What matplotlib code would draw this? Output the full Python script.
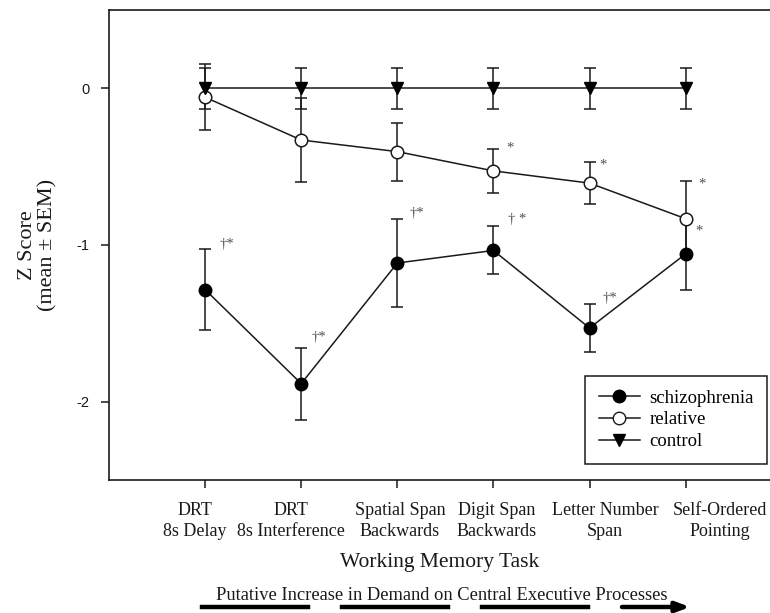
import matplotlib
matplotlib.use("Agg")
import matplotlib.pyplot as plt
from matplotlib.lines import Line2D

tasks = ["DRT\n8s Delay", "DRT\n8s Interference", "Spatial Span\nBackwards",
         "Digit Span\nBackwards", "Letter Number\nSpan", "Self-Ordered\nPointing"]
x = [1, 2, 3, 4, 5, 6]

schiz_mean = [-1.285, -1.885, -1.115, -1.035, -1.53, -1.057]
schiz_sem = [0.26, 0.23, 0.28, 0.153, 0.153, 0.23]
rel_mean = [-0.057, -0.33, -0.404, -0.527, -0.605, -0.832]
rel_sem = [0.21, 0.27, 0.185, 0.138, 0.136, 0.24]
ctrl_mean = [0, 0, 0, 0, 0, 0]
ctrl_sem = [0.13, 0.13, 0.13, 0.13, 0.13, 0.13]

# significance marks: (x, y, text)
marks = [(1.15, -1.04, "\u2020*"), (2.11, -1.63, "\u2020*"), (3.13, -0.84, "\u2020*"),
         (4.15, -0.88, "\u2020 *"), (5.13, -1.38, "\u2020*"),
         (4.13, -0.42, "*"), (5.1, -0.53, "*"), (6.13, -0.65, "*"), (6.1, -0.95, "*")]

# the task labels in the original are spread wider than the ticks
label_x = [0.895, 1.889, 3.028, 4.037, 5.161, 6.358]

serif = ["Liberation Serif", "DejaVu Serif"]
sans = ["Liberation Sans", "DejaVu Sans"]
ink = "#1a1a1a"

fig = plt.figure(figsize=(7.7, 6.13), dpi=100)
ax = fig.add_axes([0.1416, 0.217, 0.8736, 0.7667])

common = dict(color=ink, lw=1.1, capsize=4.5, elinewidth=1.1, capthick=1.1, markersize=9)
ax.errorbar(x, schiz_mean, yerr=schiz_sem, marker="o", mfc="black", mec="black", **common)
ax.errorbar(x, rel_mean, yerr=rel_sem, marker="o", mfc="white", mec=ink, mew=1.1, **common)
ax.errorbar(x, ctrl_mean, yerr=ctrl_sem, marker="v", mfc="black", mec="black", **common)

for mx, my, mt in marks:
    ax.text(mx, my, mt, fontsize=10.5, color="#505050", family=serif, va="bottom", ha="left")

ax.set_xlim(0, 7)
ax.set_ylim(-2.5, 0.5)
ax.set_xticks(x)
ax.set_xticklabels([])
for lx, lt in zip(label_x, tasks):
    ax.annotate(lt, xy=(lx, 0), xycoords=("data", "axes fraction"), xytext=(0, -16),
                textcoords="offset points", ha="center", va="top", family=serif,
                fontsize=13, color=ink, linespacing=1.3, annotation_clip=False)
ax.set_yticks([0, -1, -2])
ax.set_yticklabels(["0", "-1", "-2"], family=sans, fontsize=10.5, color=ink)
ax.tick_params(direction="out", length=6, width=1.1, color=ink, pad=8)
for s in ax.spines.values():
    s.set_linewidth(1.2)
    s.set_color(ink)

ax.set_ylabel("Z Score\n(mean \u00b1 SEM)", family=serif, fontsize=16, color=ink,
              linespacing=1.05, labelpad=14)
fig.text(440 / 770, 1 - 563 / 613, "Working Memory Task", family=serif, fontsize=15.5,
         color=ink, ha="center", va="center")
fig.text(442 / 770, 1 - 595 / 613, "Putative Increase in Demand on Central Executive Processes",
         family=serif, fontsize=13.3, color=ink, ha="center", va="center")

# demand arrow made of thick segments
yb = 1 - 607 / 613
for a, b in [(202, 308), (342, 448), (482, 588)]:
    fig.add_artist(Line2D([a / 770, b / 770], [yb, yb], color="black", lw=3.2,
                          transform=fig.transFigure))
ax.annotate("", xy=(690 / 770, yb), xytext=(622 / 770, yb), xycoords="figure fraction",
            arrowprops=dict(arrowstyle="-|>,head_length=0.8,head_width=0.3", color="black",
                            lw=3.2, shrinkA=0, shrinkB=0))

handles = [
    Line2D([], [], color=ink, lw=1.1, marker="o", mfc="black", mec="black", markersize=9),
    Line2D([], [], color=ink, lw=1.1, marker="o", mfc="white", mec=ink, markersize=9),
    Line2D([], [], color=ink, lw=1.1, marker="v", mfc="black", mec="black", markersize=9),
]
leg = ax.legend(handles, ["schizophrenia", "relative", "control"], loc="upper left",
                bbox_to_anchor=(585 / 770, 1 - 376 / 613), bbox_transform=fig.transFigure,
                prop={"family": serif, "size": 13.5}, frameon=True, fancybox=False,
                edgecolor=ink, framealpha=1, handlelength=2.2, handletextpad=0.5,
                labelspacing=0.25, borderpad=0.72, borderaxespad=0)
leg.get_frame().set_linewidth(1.1)

fig.savefig("out.png", dpi=100)
